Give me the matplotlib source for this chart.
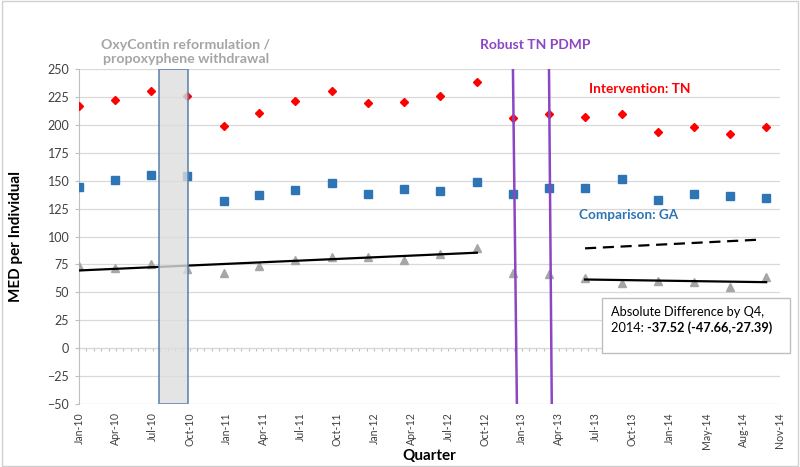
import numpy as np
import pandas as pd
import matplotlib
matplotlib.use("Agg")
import matplotlib.pyplot as plt
import matplotlib.dates as mdates
from matplotlib.patches import Rectangle

plt.rcParams['font.family'] = ['Lato', 'DejaVu Sans']

# quarterly observations, Q1 2010 .. Q4 2014
quarters = pd.date_range("2010-01-01", periods=20, freq="QS")
tn = [217, 222.5, 230.7, 225.4, 199, 211, 221.2, 229.9, 219.7, 220.6,
      226, 238.8, 205.9, 209.5, 206.8, 210, 193.6, 197.8, 191.5, 198.4]
ga = [143.9, 150.5, 155.3, 154.1, 131.6, 137, 142.1, 147.5, 137.9, 142.4,
      140.9, 149, 137.9, 143, 143.6, 151.4, 133.1, 138.5, 136.7, 134.6]
diff = [73.2, 71.7, 75.6, 71.1, 67.5, 73.5, 78.6, 81.6, 81.6, 78.6,
        84.6, 89.7, 67.5, 66.6, 63, 58.6, 60, 59.7, 55.2, 63.6]

# fitted segments
pre_dates = ["2010-01-01", "2012-10-01"]
pre_fit = [69.6, 85.5]
post_dates = ["2013-07-01", "2014-10-01"]
post_fit = [61.5, 59.1]
counter_dates = ["2013-07-01", "2014-09-15"]
counter_fit = [89.4, 97.2]

# events
oxy_span = ["2010-07-21", "2010-10-02"]
pdmp_top = ["2012-12-31", "2013-04-01"]
pdmp_bottom = ["2013-01-10", "2013-04-08"]

tick_labels = ["Jan-10", "Apr-10", "Jul-10", "Oct-10", "Jan-11", "Apr-11",
               "Jul-11", "Oct-11", "Jan-12", "Apr-12", "Jul-12", "Oct-12",
               "Jan-13", "Apr-13", "Jul-13", "Oct-13", "Jan-14", "May-14",
               "Aug-14", "Nov-14"]
tick_step = 93.1  # days between axis labels

def dnum(d):
    return mdates.date2num(pd.to_datetime(d))

x = dnum(quarters)
x0 = dnum("2010-01-01")
ticks = x0 + tick_step * np.arange(len(tick_labels))

fig = plt.figure(figsize=(8, 4.67), dpi=100)
ax = fig.add_axes([0.09875, 0.1349, 0.87625, 0.7173])

ax.set_xlim(ticks[0], ticks[-1])
ax.set_ylim(-50, 250)
ax.set_yticks(np.arange(-50, 251, 25))
ax.set_xticks(ticks)
ax.set_xticklabels(tick_labels, rotation=90, fontsize=7.6, color='#404040')
ax.tick_params(axis='x', length=0, pad=6)
ax.tick_params(axis='y', length=3, color='#bfbfbf', labelsize=9, labelcolor='#404040', pad=4)
ax.grid(axis='y', color='#d9d9d9', lw=0.9, zorder=0)
ax.set_axisbelow(True)
for s in ['top', 'right', 'bottom']:
    ax.spines[s].set_visible(False)
ax.spines['left'].set_color('#bfbfbf')

# horizontal axis at zero with small ticks
sec = ax.secondary_xaxis(1 / 6)
sec.set_xticks(x0 + tick_step / 5 * np.arange(5 * (len(tick_labels) - 1) + 1))
sec.set_xticklabels([])
sec.tick_params(axis='x', which='both', length=2.5, color='#bfbfbf', direction='out')
sec.spines['bottom'].set_color('#bfbfbf')
for s in ['top', 'left', 'right']:
    sec.spines[s].set_visible(False)

ax.plot(x, tn, ls='none', marker='D', ms=4.3, color='#ff0000', zorder=3)
ax.plot(x, ga, ls='none', marker='s', ms=6, color='#2e75b6', zorder=3)
ax.plot(x, diff, ls='none', marker='^', ms=5.6, color='#a6a6a6', zorder=3)

ax.plot(dnum(pre_dates), pre_fit, color='black', lw=1.6, zorder=4)
ax.plot(dnum(post_dates), post_fit, color='black', lw=1.6, zorder=4)
ax.plot(dnum(counter_dates), counter_fit, color='black', lw=1.6, ls=(0, (5, 3)), zorder=4)

sx = dnum(oxy_span)
ax.add_patch(Rectangle((sx[0], -50), sx[1] - sx[0], 300, facecolor='#dedede', alpha=0.8,
                       edgecolor='#5a80aa', lw=1.4, zorder=5))
for t, b in zip(pdmp_top, pdmp_bottom):
    ax.plot([dnum(t), dnum(b)], [250, -50], color='#8c46c4', lw=1.8, zorder=5)

ax.set_xlabel("Quarter", fontsize=11, fontweight='bold')
ax.xaxis.set_label_coords(0.5, -0.133)
ax.set_ylabel("MED per Individual", fontsize=11, fontweight='bold')
ax.yaxis.set_label_coords(-0.08, 0.5)

ftr = fig.transFigure
ax.text(186 / 800, 1 - 52 / 467, "OxyContin reformulation /\npropoxyphene withdrawal",
        transform=ftr, ha='center', va='center', fontsize=10.2, fontweight='bold',
        color='#a5a5a5', linespacing=1.25)
ax.text(535 / 800, 1 - 45 / 467, "Robust TN PDMP", transform=ftr, ha='center', va='center',
        fontsize=10, fontweight='bold', color='#8c46c4')
ax.text(640 / 800, 1 - 89 / 467, "Intervention: TN", transform=ftr, ha='center', va='center',
        fontsize=9.8, fontweight='bold', color='#ff0000')
ax.text(629 / 800, 1 - 215 / 467, "Comparison: GA", transform=ftr, ha='center', va='center',
        fontsize=9.8, fontweight='bold', color='#2e75b6')

# result box
ax.add_patch(Rectangle((602 / 800, 1 - 353 / 467), 188 / 800, 55 / 467, transform=ftr,
                       facecolor='white', edgecolor='#bfbfbf', lw=1, zorder=6, clip_on=False))
ax.text(611 / 800, 1 - 312 / 467, "Absolute Difference by Q4,", transform=ftr, ha='left',
        va='center', fontsize=9.2, color='#000000', zorder=7)
t1 = ax.text(611 / 800, 1 - 328 / 467, "2014: ", transform=ftr, ha='left', va='center',
             fontsize=9.2, color='#000000', zorder=7)
ax.annotate("-37.52 (-47.66,-27.39)", xy=(1, 0), xycoords=t1, ha='left', va='bottom',
            fontsize=9.2, fontweight='bold', annotation_clip=False, zorder=7)

# chart border
fig.patches.append(Rectangle((0.002, 0.003), 0.996, 0.994, transform=ftr,
                             fill=False, edgecolor='#d0d0d0', lw=1))

fig.savefig("out.png", dpi=100)
